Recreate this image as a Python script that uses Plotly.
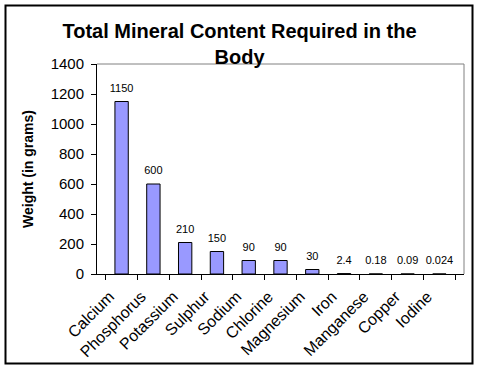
import plotly.graph_objects as go

minerals = ["Calcium", "Phosphorus", "Potassium", "Sulphur", "Sodium", "Chlorine",
            "Magnesium", "Iron", "Manganese", "Copper", "Iodine"]
weights = [1150, 600, 210, 150, 90, 90, 30, 2.4, 0.18, 0.09, 0.024]
labels = ["1150", "600", "210", "150", "90", "90", "30", "2.4", "0.18", "0.09", "0.024"]
y_ticks = [0, 200, 400, 600, 800, 1000, 1200, 1400]

FONT = "Liberation Sans, Arial, sans-serif"

W, H = 479, 369
L, R, T, B = 97, 15, 64, 95
pw, ph = W - L - R, H - T - B


def px_to_paper_x(px):
    return (px - L) / pw


def px_to_paper_y(py):
    return (H - B - py) / ph


fig = go.Figure()
fig.add_trace(go.Bar(
    x=minerals, y=weights,
    marker=dict(color="#9999FF", line=dict(color="black", width=1)),
    width=0.42, hoverinfo="x+y",
))
fig.add_trace(go.Scatter(
    x=minerals, y=weights, text=labels, mode="markers+text",
    textposition="top center", marker=dict(size=10, opacity=0),
    textfont=dict(family=FONT, size=11, color="black"),
    cliponaxis=False, hoverinfo="skip",
))

fig.update_layout(
    width=W, height=H,
    margin=dict(l=L, r=R, t=T, b=B),
    paper_bgcolor="white", plot_bgcolor="white",
    showlegend=False,
    title=dict(text="<b>Total Mineral Content Required in the<br>Body</b>",
               x=0.5, xref="container", xanchor="center",
               y=0.898, yref="container", yanchor="middle",
               font=dict(family=FONT, size=20, color="black")),
    xaxis=dict(showline=True, linecolor="black", linewidth=1, ticks="outside",
               tickson="boundaries", ticklen=5, tickcolor="black", tickangle=-45,
               ticklabelstandoff=6, ticklabelshift=-12, automargin=False,
               tickfont=dict(family=FONT, size=16, color="black"), showgrid=False),
    yaxis=dict(range=[0, 1400], tickvals=y_ticks, showline=True, linecolor="black",
               linewidth=1, ticks="outside", ticklen=5, tickcolor="black",
               ticklabelstandoff=4, automargin=False,
               tickfont=dict(family=FONT, size=15, color="black"), showgrid=False,
               zeroline=False,
               title=dict(text="<b>Weight (in grams)</b>", standoff=13,
                          font=dict(family=FONT, size=14, color="black"))),
    shapes=[
        dict(type="line", xref="paper", yref="paper", x0=0, x1=1, y0=1, y1=1,
             line=dict(color="gray", width=1)),
        dict(type="line", xref="paper", yref="paper", x0=1, x1=1, y0=0, y1=1,
             line=dict(color="gray", width=1)),
        dict(type="rect", xref="paper", yref="paper",
             x0=px_to_paper_x(5.5), x1=px_to_paper_x(472.5),
             y0=px_to_paper_y(363.5), y1=px_to_paper_y(5.5),
             line=dict(color="black", width=2)),
    ],
)

fig.write_html("out.html", config={"displayModeBar": False},
               post_script="document.body.style.margin='0';")
